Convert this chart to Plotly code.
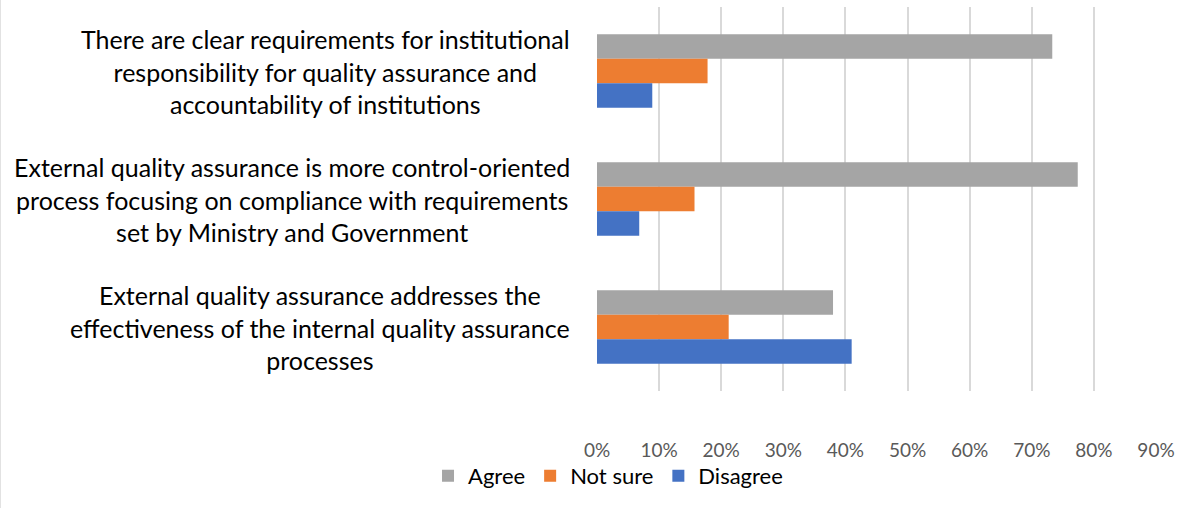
import plotly.graph_objects as go

categories = [
    "There are clear requirements for institutional<br>responsibility for quality assurance and<br>accountability of institutions",
    "External quality assurance is more control-oriented<br>process focusing on compliance with requirements<br>set by Ministry and Government",
    "External quality assurance addresses the<br>effectiveness of the internal quality assurance<br>processes",
]
agree = [0.733, 0.774, 0.380]
not_sure = [0.178, 0.157, 0.212]
disagree = [0.089, 0.068, 0.410]
tick_vals = [0, 0.1, 0.2, 0.3, 0.4, 0.5, 0.6, 0.7, 0.8, 0.9]
tick_text = ["0%", "10%", "20%", "30%", "40%", "50%", "60%", "70%", "80%", "90%"]

series = [("Agree", agree, "#A5A5A5"), ("Not sure", not_sure, "#ED7D31"), ("Disagree", disagree, "#4472C4")]
ypos = list(range(len(categories)))

fig = go.Figure()
for name, vals, col in series:
    fig.add_trace(go.Bar(x=vals, y=ypos, orientation="h", name=name,
                         marker=dict(color=col, line=dict(width=0))))

for i, c in enumerate(categories):
    fig.add_annotation(x=0, y=i, xref="paper", yref="y", text=c, showarrow=False,
                       xanchor="right", yanchor="middle", align="center", xshift=-25,
                       font=dict(family="Lato", size=25, color="#000000"))

fig.add_shape(type="line", xref="paper", yref="paper", x0=-597/559, x1=-597/559,
              y0=-117/384, y1=1+7/384, line=dict(color="#D9D9D9", width=1.5))

fig.update_layout(
    width=1203, height=508,
    margin=dict(l=597, r=47, t=7, b=117),
    paper_bgcolor="white", plot_bgcolor="white",
    barmode="group", bargap=0.426, bargroupgap=0,
    xaxis=dict(range=[0, 0.9], tickvals=tick_vals, ticktext=tick_text,
               showgrid=True, gridcolor="#D9D9D9", gridwidth=1.5, zeroline=False,
               showline=False, ticks="", ticklabelstandoff=46,
               tickfont=dict(family="Lato", size=19, color="#595959")),
    yaxis=dict(range=[2.5, -0.5], showticklabels=False, showgrid=False,
               zeroline=False, showline=False, ticks=""),
    legend=dict(orientation="h", x=0.0197, xanchor="center", y=-0.221, yanchor="middle",
                bgcolor="rgba(0,0,0,0)",
                font=dict(family="Lato", size=22, color="#000000"),
                itemwidth=30, traceorder="normal"),
    showlegend=True,
)

fig.write_html("out.html")
